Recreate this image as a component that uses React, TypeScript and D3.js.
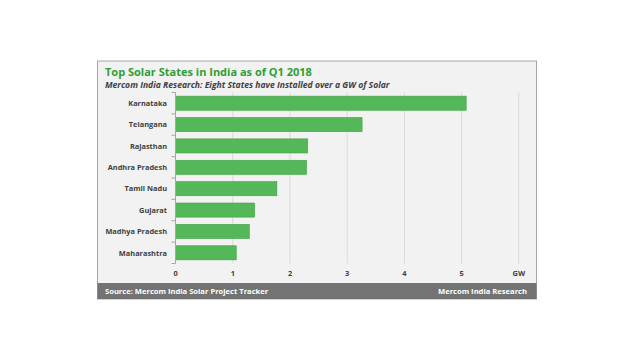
import React from "react";
import * as d3 from "d3";

const states = ["Karnataka", "Telangana", "Rajasthan", "Andhra Pradesh", "Tamil Nadu", "Gujarat", "Madhya Pradesh", "Maharashtra"];
const capacityGW = [5.08, 3.26, 2.31, 2.29, 1.77, 1.38, 1.29, 1.06];
const xTicks = [0, 1, 2, 3, 4, 5];
const unitLabel = "GW";
const title = "Top Solar States in India as of Q1 2018";
const subtitle = "Mercom India Research: Eight States have Installed over a GW of Solar";
const sourceText = "Source: Mercom India Solar Project Tracker";
const brandText = "Mercom India Research";

const FONT = "'Open Sans', 'DejaVu Sans', sans-serif";

export default function App() {
  const x = d3.scaleLinear().domain([0, 6]).range([175.6, 518.8]);
  const y = d3.scaleBand<string>().domain(states).range([92.5, 263.5]).paddingInner(0.34).paddingOuter(0.17);
  const band = d3.scaleBand<string>().domain(states).range([92.5, 263.5]);
  const gridVals = [1, 2, 3, 4, 5, 6];
  return (
    <svg width={640} height={360} style={{ position: "absolute", left: 0, top: 0 }}>
      <rect x={0} y={0} width={640} height={360} fill="#ffffff" />
      <rect x={97.5} y={61} width={439} height={238} fill="#f2f2f2" stroke="#a6a6a6" strokeWidth={1} />
      <text x={105} y={76} fontFamily={FONT} fontWeight={700} fontSize={11} fill="#2e9e32">{title}</text>
      <text x={105} y={88} fontFamily={FONT} fontWeight={700} fontStyle="italic" fontSize={8.6} fill="#404040">{subtitle}</text>
      {gridVals.map((v) => (
        <line key={v} x1={x(v)} x2={x(v)} y1={92.5} y2={263.5} stroke="#d9d9d9" strokeWidth={1} />
      ))}
      {states.map((s, i) => (
        <rect key={s} x={x(0)} y={y(s)!} width={x(capacityGW[i]) - x(0)} height={y.bandwidth()} fill="#55b858" stroke="#3f9f44" strokeWidth={0.6} />
      ))}
      <line x1={175.5} x2={175.5} y1={92.5} y2={263.5} stroke="#a6a6a6" strokeWidth={1} />
      {[...states.map((s) => band(s)!), 263.5].map((yy, i) => (
        <line key={i} x1={171.5} x2={175.5} y1={yy} y2={yy} stroke="#a6a6a6" strokeWidth={1} />
      ))}
      {states.map((s) => (
        <text key={s} x={167} y={band(s)! + band.bandwidth() / 2 + 2.8} textAnchor="end" fontFamily={FONT} fontWeight={700} fontSize={7.4} fill="#404040">{s}</text>
      ))}
      {xTicks.map((t) => (
        <text key={t} x={x(t)} y={276} textAnchor="middle" fontFamily={FONT} fontWeight={700} fontSize={7.4} fill="#404040">{t}</text>
      ))}
      <text x={x(6)} y={276} textAnchor="middle" fontFamily={FONT} fontWeight={700} fontSize={7.4} fill="#404040">{unitLabel}</text>
      <rect x={97.5} y={283} width={439} height={16} fill="#737373" />
      <text x={105} y={294} fontFamily={FONT} fontWeight={700} fontSize={7.6} fill="#ffffff">{sourceText}</text>
      <text x={527} y={294} textAnchor="end" fontFamily={FONT} fontWeight={700} fontSize={7.6} fill="#ffffff">{brandText}</text>
    </svg>
  );
}
